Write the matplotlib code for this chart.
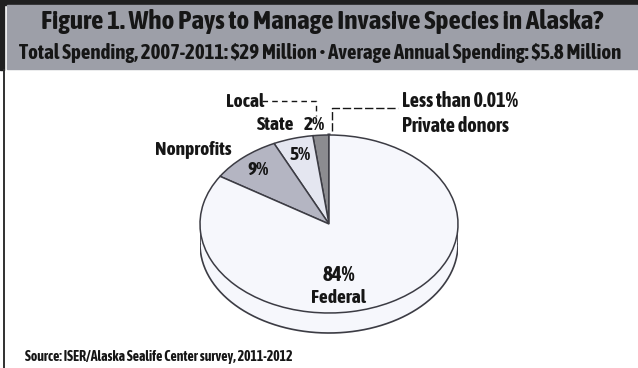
import numpy as np
import matplotlib.pyplot as plt
from matplotlib import font_manager
from matplotlib.patches import Rectangle

# spending shares, counter-clockwise from 12 o'clock
sources = ['Private donors', 'Local', 'State', 'Nonprofits', 'Federal']
shares = [0.005, 2, 5, 9, 84]
colors = ['#3a3a3a', '#8c8c90', '#e4e6f0', '#b4b5c2', '#f6f7fc']

title = 'Figure 1. Who Pays to Manage Invasive Species in Alaska?'
subtitle = ('Total Spending, 2007-2011: \\$29 Million \u2022 '
            'Average Annual Spending: \\$5.8 Million')
source = 'Source: ISER/Alaska Sealife Center survey, 2011-2012'


def is_bold(f):
    w = f.weight
    if isinstance(w, str):
        return w in ('bold', 'heavy', 'black', 'extra bold', 'semibold', 'demibold')
    return w >= 600


# a narrow, upright bold face if one is around
narrow = sorted({f.name for f in font_manager.fontManager.ttflist
                 if is_bold(f) and f.style == 'normal'
                 and ('Narrow' in f.name or 'Condensed' in f.name
                      or f.stretch in ('condensed', 'semi-condensed'))})
FONT = [narrow[0] if narrow else 'DejaVu Sans', 'DejaVu Sans']
INK = '#161616'

W, H = 638, 368
fig = plt.figure(figsize=(W / 100, H / 100), dpi=100)

# background layer in pixel units
bg = fig.add_axes([0, 0, 1, 1])
bg.set_xlim(0, W)
bg.set_ylim(H, 0)
bg.axis('off')
bg.add_patch(Rectangle((0, 0), W, 5, color='#202020'))
bg.add_patch(Rectangle((7, 5), W - 7, 64, color='#9d9fa8'))
bg.add_patch(Rectangle((0, 0), 4, 70, color='#202020'))
bg.plot([4, 4], [70, H], color='#303030', lw=1.4)

# pie axes: x spans the ellipse width, y squashed to make the tilt
cx, cy, rx, ry, depth = 329, 224, 129, 89, 20
ax = fig.add_axes([(cx - rx) / W, (H - cy - ry - depth - 5) / H,
                   2 * rx / W, (2 * ry + depth + 5) / H])

# side wall of the tilted pie
d = depth / ry
t = np.linspace(np.pi, 2 * np.pi, 200)
xs = np.concatenate([np.cos(t), np.cos(t[::-1])])
ys = np.concatenate([np.sin(t), np.sin(t[::-1]) - d])
ax.fill(xs, ys, color=colors[-1], zorder=1)
ax.plot(np.cos(t), np.sin(t) - d, color='#3c3c44', lw=1.2, zorder=2)
ax.plot([-1, -1], [0, -d], color='#3c3c44', lw=1.2, zorder=2)
ax.plot([1, 1], [0, -d], color='#3c3c44', lw=1.2, zorder=2)

wedges, _ = ax.pie(shares, colors=colors, startangle=90, counterclock=True,
                   radius=1, wedgeprops=dict(edgecolor='#3c3c44', linewidth=1.1))
for w in wedges:
    w.set_zorder(3)
wedges[0].set_linewidth(2.2)
ax.set_xlim(-1, 1)
ax.set_ylim(-1 - (depth + 5) / ry, 1)
ax.set_aspect('auto')
ax.axis('off')

# text layer on top of everything
top = fig.add_axes([0, 0, 1, 1])
top.set_xlim(0, W)
top.set_ylim(H, 0)
top.axis('off')
top.patch.set_alpha(0)


def label(x, y, s, size=14, ha='center'):
    top.text(x, y, s, family=FONT, weight='bold',
             fontsize=size, color=INK, ha=ha, va='center')


label(322, 21, title, 19.5)
label(320, 53, subtitle, 15)
label(25, 357, source, 10, ha='left')

label(245, 102, 'Local')
top.plot([262, 316, 316], [101, 101, 116], color=INK, lw=1, ls=(0, (4, 3)))
label(276, 125, 'State')
label(314, 125, f'{shares[1]:g}%')
label(300, 155, f'{shares[2]:g}%')
label(193, 150, 'Nonprofits')
label(258, 170, f'{shares[3]:g}%')
top.plot([332, 332, 398], [131, 108, 108], color=INK, lw=1, ls=(0, (6, 2)))
label(402, 101, 'Less than 0.01%', 14.5, ha='left')
label(402, 126, 'Private donors', 14.5, ha='left')
label(339, 275, f'{shares[4]:g}%', 15)
label(338, 298, 'Federal', 14)

fig.savefig('out.png', dpi=100, facecolor='white')
